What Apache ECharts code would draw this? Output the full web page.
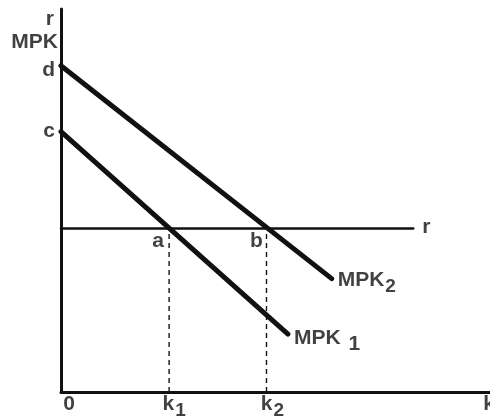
<!DOCTYPE html>
<html>
<head>
<meta charset="utf-8">
<script src="https://cdn.jsdelivr.net/npm/echarts@6/dist/echarts.min.js"></script>
<style>
  html, body { margin: 0; padding: 0; background: #fff; }
  #chart { width: 490px; height: 419px; }
</style>
</head>
<body>
<div id="chart"></div>
<script>
// 资本边际产量 MPK 与利率 r
const mpk1 = [[0, 68], [52.9, 15.1]]
const mpk2 = [[0, 85.2], [63.1, 29.6]]
const rLevel = 42.7
const rLineEnd = 82.1
const kPoints = [25.2, 47.9] // k1, k2
const axisMax = 100

const yAxisTitle = '{t|r}\n{m|MPK}'
const interceptLabels = ['c', 'd']
const pointLabels = ['a', 'b']
const rLabel = 'r'
const curveLabels = ['{m|MPK}{g|1}', '{m|MPK}{s|2}']
const tickValues = [0, kPoints[0], kPoints[1], axisMax]
const tickLabels = ['{m|0}', '{m|k}{s|1}', '{m|k}{s|2}', '{m|k}']

const ink = '#111'
const font = { fontFamily: 'Liberation Sans', fontSize: 21, fontWeight: 'bold', color: ink }
const rich = {
  m: { ...font, lineHeight: 23, verticalAlign: 'top' },
  t: { ...font, lineHeight: 23, verticalAlign: 'top', padding: [0, 4, 0, 0] },
  s: { ...font, fontSize: 19, lineHeight: 23, verticalAlign: 'top', padding: [7, 0, 0, 1] },
  g: { ...font, lineHeight: 23, verticalAlign: 'top', padding: [6, 0, 0, 8] },
}

const tickOffsets = [[8, -3], [5, -3], [6, -3], [-1, -3]]

function textPoint(coord, text, position, offset) {
  return {
    value: coord,
    label: { show: true, formatter: text, position, offset, distance: 5, align: position === 'left' ? 'right' : undefined, rich },
  }
}

const labelData = [
  textPoint([0, axisMax], yAxisTitle, 'left', [2, 23]),
  textPoint(mpk1[0], '{m|' + interceptLabels[0] + '}', 'left', [-1, 1]),
  textPoint(mpk2[0], '{m|' + interceptLabels[1] + '}', 'left', [-1, 6]),
  textPoint([kPoints[0], rLevel], '{m|' + pointLabels[0] + '}', 'bottom', [-11, -3]),
  textPoint([kPoints[1], rLevel], '{m|' + pointLabels[1] + '}', 'bottom', [-10, -3]),
  textPoint([rLineEnd, rLevel], '{m|' + rLabel + '}', 'right', [4, 0]),
  textPoint(mpk1[1], curveLabels[0], 'right', [1, 5]),
  textPoint(mpk2[1], curveLabels[1], 'right', [1, 3]),
  ...tickValues.map((v, i) => textPoint([v, 0], tickLabels[i], 'bottom', tickOffsets[i])),
]

const solid = (data, width) => ({
  type: 'line',
  data,
  symbol: 'none',
  silent: true,
  lineStyle: { color: ink, width, cap: 'round' },
})

const myChart = echarts.init(document.getElementById('chart'))
const option = {
  animation: false,
  grid: { left: 61, right: 0, top: 9, bottom: 27, outerBoundsMode: 'none' },
  xAxis: {
    type: 'value',
    min: 0,
    max: axisMax,
    axisLine: { show: true, lineStyle: { color: ink, width: 3 } },
    axisTick: { show: false },
    axisLabel: { show: false },
    splitLine: { show: false },
  },
  yAxis: {
    type: 'value',
    min: 0,
    max: axisMax,
    axisLine: { show: true, lineStyle: { color: ink, width: 3 } },
    axisTick: { show: false },
    axisLabel: { show: false },
    splitLine: { show: false },
  },
  series: [
    ...kPoints.map((k) => ({
      type: 'line',
      data: [[k, 0], [k, rLevel]],
      symbol: 'none',
      silent: true,
      lineStyle: { color: ink, width: 1.4, type: [5, 4] },
    })),
    solid([[0, rLevel], [rLineEnd, rLevel]], 2.5),
    solid(mpk1, 5),
    solid(mpk2, 5),
    {
      type: 'scatter',
      data: labelData,
      symbolSize: 0,
      silent: true,
      clip: false,
    },
  ],
}
option && myChart.setOption(option)
</script>
</body>
</html>
